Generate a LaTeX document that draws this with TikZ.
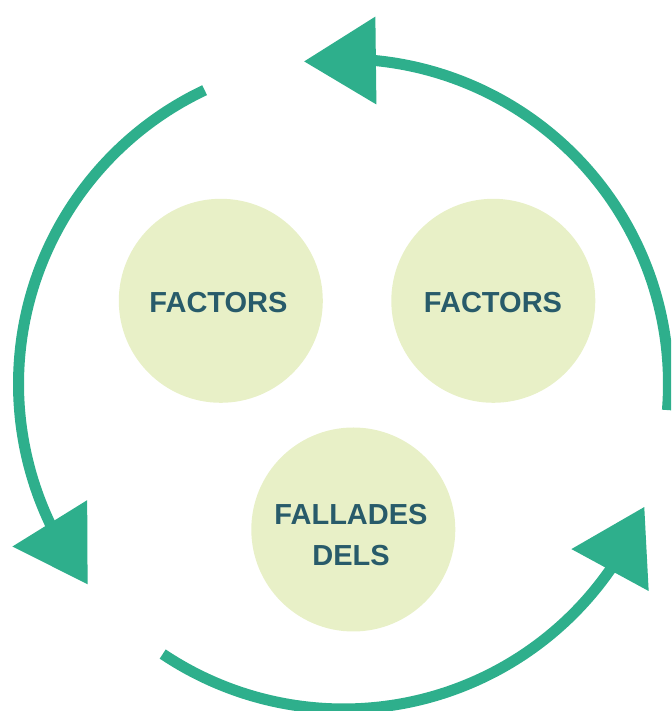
\documentclass[tikz,border=0pt]{standalone}
\usepackage{fontspec}
\setmainfont{Liberation Sans}
\usetikzlibrary{arrows.meta,bending}
\definecolor{cyclegreen}{RGB}{46,175,140}
\definecolor{bubblefill}{RGB}{232,240,199}
\definecolor{labelblue}{RGB}{40,91,106}
\tikzset{
  cyclearrow/.style={draw=cyclegreen, line width=11pt,
    -{Triangle[length=72pt,width=85pt]}, cyclegreen},
  bubble/.style={circle, fill=bubblefill, draw=none, minimum size=204pt, inner sep=0pt},
  labeltext/.style={text=labelblue, font=\fontsize{29}{41.7}\selectfont\bfseries, align=center, inner sep=0pt}
}
\begin{document}
\begin{tikzpicture}[x=1pt,y=1pt]
\useasboundingbox (0,0) rectangle (671,711);
\clip (0,0) rectangle (671,711);
\coordinate (C) at (343.5,327);
% bubbles
\node[bubble] (b1) at (220.8,410.2) {};
\node[bubble] (b2) at (493.3,410.2) {};
\node[bubble] (b3) at (353.3,181.5) {};
\node[labeltext] (t1) at (218.5,408.5) {FACTORS};
\node[labeltext] (t2) at (493,408.5) {FACTORS};
\node[labeltext] (t3) at (351,176) {FALLADES\\DELS};
% cycle arrows
\coordinate (s1) at ([shift={(-4.6:325)}]C);
\coordinate (s2) at ([shift={(115.3:325)}]C);
\coordinate (s3) at ([shift={(236.2:325)}]C);
\draw[cyclearrow] (s1) arc[start angle=-4.6, end angle=97.0, radius=325];
\draw[cyclearrow] (s2) arc[start angle=115.3, end angle=218.1, radius=325];
\draw[cyclearrow] (s3) arc[start angle=236.2, end angle=337.8, radius=325];
\end{tikzpicture}
\end{document}
